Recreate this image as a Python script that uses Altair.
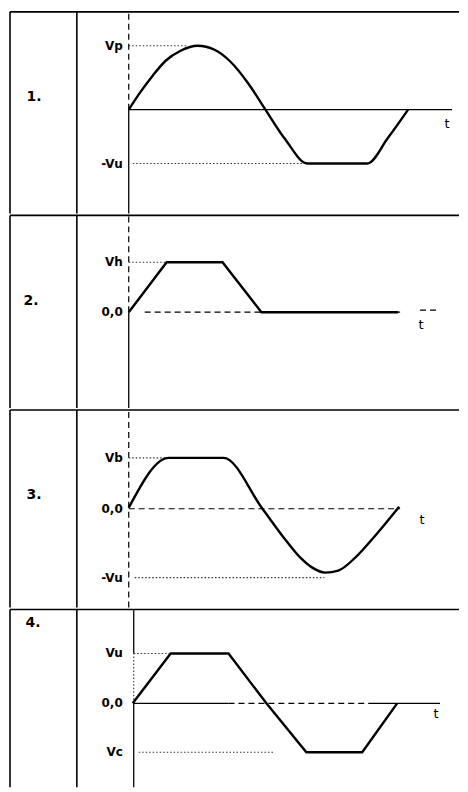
import altair as alt
import pandas as pd

# ---------------- data (time units t, voltage units v) ----------------
ROW_LABELS = ["1.", "2.", "3.", "4."]

# waveform 1 : sine clipped at -Vu
W1_T = [0, 0.6, 1.2, 1.85, 2.6, 3.45, 4.3, 5.1, 6.0, 6.85, 7.85, 8.95, 11.95, 13.0, 14.0]
W1_V = [0, 1.8, 3.4, 4.9, 5.9, 6.4, 6.0, 4.8, 2.6, 0, -3.0, -5.4, -5.4, -2.8, 0]
# waveform 2 : positive trapezoid then flat
W2_T = [0, 1.9, 4.7, 6.65, 13.5]
W2_V = [0, 5.0, 5.0, 0, 0]
# waveform 3 : clipped top, rounded bottom
W3_T = [0, 2.0, 4.75, 6.7, 7.85, 8.6, 9.2, 9.85, 10.5, 11.35, 12.35, 13.55]
W3_V = [0.1, 5.1, 5.1, 0, -3.1, -4.9, -5.9, -6.4, -6.2, -4.9, -2.7, 0.2]
# waveform 4 : clipped both sides
W4_T = [0.2, 2.1, 5.0, 6.9, 8.9, 11.7, 13.45]
W4_V = [0, 5.0, 5.0, 0, -4.9, -4.9, 0]

# level labels per panel
L1_TEXT, L1_V = ["Vp", "-Vu"], [6.4, -5.4]
L2_TEXT, L2_V = ["Vh", "0,0"], [5.0, 0]
L3_TEXT, L3_V = ["Vb", "0,0", "-Vu"], [5.1, 0, -6.9]
L4_TEXT, L4_V = ["Vu", "0,0", "Vc"], [5.0, 0, -4.9]

# ---------------- layout ----------------
T_DOMAIN = [-5.95, 16.55]
WIDTH = 450
BORDER_T = -5.95
COLUMN_T = -2.6
FONT = "DejaVu Sans"


def seg(rows):
    return pd.DataFrame(rows, columns=["t", "t2", "v", "v2"])


def panel(idx, lo, hi, height, wt, wv, interp, ltext, lv,
          solid, dashed, dotted, tpos, rowpos):
    xs = alt.Scale(domain=T_DOMAIN, nice=False, zero=False)
    ys = alt.Scale(domain=[lo, hi], nice=False, zero=False)
    X = alt.X("t:Q", scale=xs, axis=None)
    Y = alt.Y("v:Q", scale=ys, axis=None)

    frame = seg([
        [BORDER_T, T_DOMAIN[1], hi, hi],
        [BORDER_T, BORDER_T, lo, hi],
        [COLUMN_T, COLUMN_T, lo, hi],
    ])
    layers = [
        alt.Chart(frame).mark_rule(color="black", strokeWidth=1.6).encode(
            x=X, x2="t2:Q", y=Y, y2="v2:Q"),
    ]
    if solid:
        layers.append(alt.Chart(seg(solid)).mark_rule(color="black", strokeWidth=1.3).encode(
            x=X, x2="t2:Q", y=Y, y2="v2:Q"))
    if dashed:
        layers.append(alt.Chart(seg(dashed)).mark_rule(color="black", strokeWidth=1.2,
                                                        strokeDash=[6, 4]).encode(
            x=X, x2="t2:Q", y=Y, y2="v2:Q"))
    if dotted:
        layers.append(alt.Chart(seg(dotted)).mark_rule(color="#333333", strokeWidth=1.1,
                                                        strokeDash=[1.5, 2]).encode(
            x=X, x2="t2:Q", y=Y, y2="v2:Q"))

    wave = pd.DataFrame({"t": wt, "v": wv, "o": list(range(len(wt)))})
    layers.append(alt.Chart(wave).mark_line(color="black", strokeWidth=2.4,
                                            interpolate=interp).encode(
        x=X, y=Y, order="o:Q"))

    lab = pd.DataFrame({"t": [-0.3] * len(ltext), "v": lv, "s": ltext})
    layers.append(alt.Chart(lab).mark_text(align="right", baseline="middle",
                                           font=FONT, fontSize=12, fontWeight="bold",
                                           color="black").encode(
        x=X, y=Y, text="s:N"))

    tl = pd.DataFrame({"t": [tpos[0]], "v": [tpos[1]], "s": ["t"]})
    layers.append(alt.Chart(tl).mark_text(align="center", baseline="middle",
                                          font=FONT, fontSize=13, color="black").encode(
        x=X, y=Y, text="s:N"))

    rl = pd.DataFrame({"t": [rowpos[0]], "v": [rowpos[1]], "s": [ROW_LABELS[idx]]})
    layers.append(alt.Chart(rl).mark_text(align="center", baseline="middle",
                                          font=FONT, fontSize=14, fontWeight="bold",
                                          color="black").encode(
        x=X, y=Y, text="s:N"))

    return alt.layer(*layers).properties(width=WIDTH, height=height)


p1 = panel(0, -10.4, 9.8, 202, W1_T, W1_V, "monotone", L1_TEXT, L1_V,
           solid=[[0, 16.2, 0, 0], [0, 0, -10.4, 0]],
           dashed=[[0, 0, 0, 9.8]],
           dotted=[[0, 2.9, 6.4, 6.4], [0.2, 8.9, -5.4, -5.4]],
           tpos=(15.95, -1.4), rowpos=(-4.75, 1.3))
p2 = panel(1, -9.6, 9.7, 193, W2_T, W2_V, "linear", L2_TEXT, L2_V,
           solid=[[0, 0, -9.6, 0]],
           dashed=[[0, 0, 0, 9.7], [0.8, 13.6, 0, 0], [14.6, 15.5, 0.2, 0.2]],
           dotted=[[0, 1.9, 5.0, 5.0]],
           tpos=(14.65, -1.3), rowpos=(-4.9, 1.1))
p3 = panel(2, -9.9, 9.9, 198, W3_T, W3_V, "monotone", L3_TEXT, L3_V,
           solid=[],
           dashed=[[0, 0, -9.9, 9.9], [0, 13.6, 0, 0]],
           dotted=[[0, 2.0, 5.1, 5.1], [0.3, 9.8, -6.9, -6.9]],
           tpos=(14.7, -1.1), rowpos=(-4.75, 1.4))
p4 = panel(3, -8.4, 9.4, 178, W4_T, W4_V, "linear", L4_TEXT, L4_V,
           solid=[[0.25, 0.25, 5.0, 9.4], [0.25, 0.25, -8.4, 0], [0.25, 5.0, 0, 0],
                  [12.0, 15.6, 0, 0]],
           dashed=[[5.0, 12.0, 0, 0]],
           dotted=[[0.25, 2.1, 5.0, 5.0], [0.25, 0.25, 0, 5.0], [0.5, 7.3, -4.9, -4.9]],
           tpos=(15.4, -1.1), rowpos=(-4.8, 8.0))

chart = alt.vconcat(p1, p2, p3, p4, spacing=0).properties(
    padding={"left": 1, "top": 2, "right": 0, "bottom": 0},
    background="white",
).configure_view(stroke=None)

chart.save("out.html", embed_options={"renderer": "svg", "actions": False})
